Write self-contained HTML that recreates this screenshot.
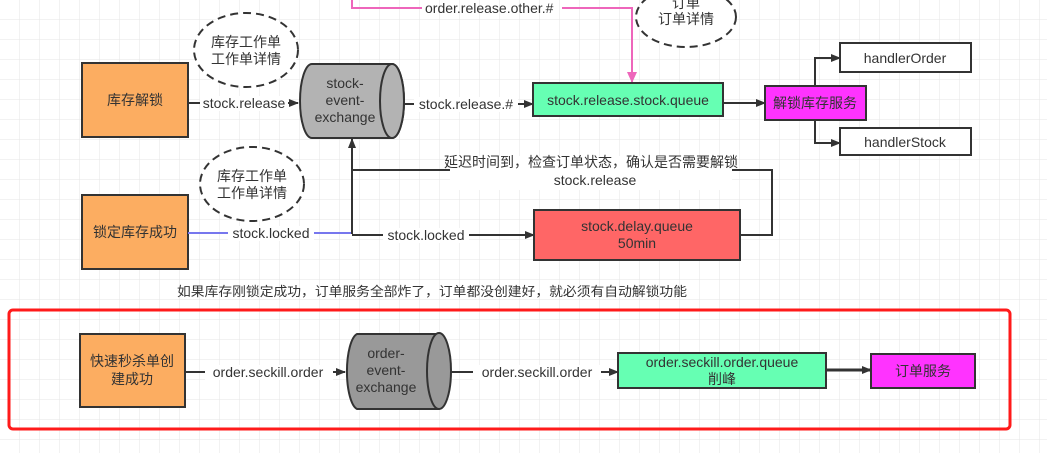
<!DOCTYPE html><html><head><meta charset="utf-8"><style>
body{margin:0;width:1047px;height:453px;overflow:hidden;background:#fff;}
svg{display:block}
text{font-family:"Liberation Sans","Noto Sans CJK SC",sans-serif;font-size:14px;fill:#333;}
</style></head><body>
<svg width="1047" height="453" viewBox="0 0 1047 453" xmlns="http://www.w3.org/2000/svg">
<defs>
<pattern id="g" width="20" height="20" patternUnits="userSpaceOnUse"><path d="M20 0V20H0" fill="none" stroke="#e6e6e6" stroke-width="1"/></pattern>
<marker id="a" markerWidth="10" markerHeight="10" refX="9" refY="5" orient="auto" markerUnits="userSpaceOnUse"><path d="M0,1 L10,5 L0,9 Z" fill="#333"/></marker>
<marker id="p" markerWidth="12" markerHeight="12" refX="10" refY="6" orient="auto" markerUnits="userSpaceOnUse"><path d="M0,1 L11,6 L0,11 Z" fill="#ee66bb"/></marker>
</defs>
<rect width="1047" height="453" fill="url(#g)"/>
<path d="M352 0V8H422M562 8H632V82" fill="none" stroke="#ee66bb" stroke-width="2" marker-end="url(#p)"/>
<text x="425" y="13">order.release.other.#</text>
<ellipse cx="686" cy="17" rx="50" ry="30" fill="#fff" stroke="#333" stroke-width="2" stroke-dasharray="8,5"/>
<text x="686" y="8" text-anchor="middle">订单</text>
<text x="686" y="24" text-anchor="middle">订单详情</text>
<ellipse cx="246" cy="50" rx="52" ry="37" fill="#fff" stroke="#333" stroke-width="2" stroke-dasharray="8,5"/>
<text x="246" y="47" text-anchor="middle">库存工作单</text>
<text x="246" y="64" text-anchor="middle">工作单详情</text>
<rect x="82" y="63" width="106" height="74" fill="#fcad61" stroke="#333" stroke-width="2"/>
<text x="135" y="105" text-anchor="middle">库存解锁</text>
<line x1="188" y1="103" x2="298" y2="103" stroke="#333" stroke-width="2" marker-end="url(#a)"/>
<rect x="200" y="96" width="88" height="15" fill="#fff"/>
<text x="244" y="108" text-anchor="middle">stock.release</text>
<path d="M312 64H392A12 37 0 0 1 392 138H312A12 37 0 0 1 312 64Z" fill="#b3b3b3" stroke="#333" stroke-width="2"/>
<ellipse cx="392" cy="101" rx="12" ry="37" fill="#b3b3b3" stroke="#333" stroke-width="2"/>
<text x="345" y="88" text-anchor="middle">stock-</text>
<text x="345" y="105" text-anchor="middle">event-</text>
<text x="345" y="122" text-anchor="middle">exchange</text>
<line x1="404" y1="104" x2="533" y2="104" stroke="#333" stroke-width="2" marker-end="url(#a)"/>
<rect x="414" y="97" width="104" height="15" fill="#fff"/>
<text x="466" y="109" text-anchor="middle">stock.release.#</text>
<rect x="533" y="83" width="190" height="33" fill="#66ffb3" stroke="#333" stroke-width="2"/>
<text x="628" y="105" text-anchor="middle">stock.release.stock.queue</text>
<line x1="723" y1="103" x2="765" y2="103" stroke="#333" stroke-width="2" marker-end="url(#a)"/>
<rect x="765" y="86" width="101" height="34" fill="#ff33ff" stroke="#333" stroke-width="2"/>
<text x="815" y="108" text-anchor="middle">解锁库存服务</text>
<path d="M815 86V58H840" fill="none" stroke="#333" stroke-width="2" marker-end="url(#a)"/>
<path d="M815 120V143H840" fill="none" stroke="#333" stroke-width="2" marker-end="url(#a)"/>
<rect x="840" y="43" width="131" height="29" fill="#fff" stroke="#333" stroke-width="2"/>
<text x="905" y="63" text-anchor="middle">handlerOrder</text>
<rect x="840" y="128" width="131" height="27" fill="#fff" stroke="#333" stroke-width="2"/>
<text x="905" y="147" text-anchor="middle">handlerStock</text>
<ellipse cx="252" cy="184" rx="52" ry="37" fill="#fff" stroke="#333" stroke-width="2" stroke-dasharray="8,5"/>
<text x="252" y="181" text-anchor="middle">库存工作单</text>
<text x="252" y="198" text-anchor="middle">工作单详情</text>
<rect x="82" y="195" width="106" height="74" fill="#fcad61" stroke="#333" stroke-width="2"/>
<text x="135" y="237" text-anchor="middle">锁定库存成功</text>
<line x1="188" y1="233" x2="352" y2="233" stroke="#7777ee" stroke-width="2"/>
<rect x="228" y="226" width="86" height="15" fill="#fff"/>
<text x="271" y="238" text-anchor="middle">stock.locked</text>
<line x1="352" y1="234" x2="352" y2="139" stroke="#333" stroke-width="2" marker-end="url(#a)"/>
<path d="M352 170H772V235H740" fill="none" stroke="#333" stroke-width="2"/>
<rect x="450" y="156" width="282" height="34" fill="#fff"/>
<text x="591" y="167" text-anchor="middle">延迟时间到，检查订单状态，确认是否需要解锁</text>
<text x="595" y="185" text-anchor="middle">stock.release</text>
<line x1="352" y1="235" x2="534" y2="235" stroke="#333" stroke-width="2" marker-end="url(#a)"/>
<rect x="383" y="228" width="86" height="15" fill="#fff"/>
<text x="426" y="240" text-anchor="middle">stock.locked</text>
<rect x="534" y="210" width="206" height="50" fill="#ff6666" stroke="#333" stroke-width="2"/>
<text x="637" y="231" text-anchor="middle">stock.delay.queue</text>
<text x="637" y="248" text-anchor="middle">50min</text>
<text x="177" y="296" style="font-size:13px" textLength="510" lengthAdjust="spacingAndGlyphs">如果库存刚锁定成功，订单服务全部炸了，订单都没创建好，就必须有自动解锁功能</text>
<rect x="9" y="310" width="1001" height="119" rx="4" fill="none" stroke="#ff1a1a" stroke-width="3"/>
<rect x="80" y="334" width="105" height="73" fill="#fcad61" stroke="#333" stroke-width="2"/>
<text x="132" y="366" text-anchor="middle">快速秒杀单创</text>
<text x="132" y="384" text-anchor="middle">建成功</text>
<line x1="185" y1="372" x2="345" y2="372" stroke="#333" stroke-width="2" marker-end="url(#a)"/>
<rect x="205" y="365" width="128" height="15" fill="#fff"/>
<text x="268" y="377" text-anchor="middle">order.seckill.order</text>
<path d="M357 334H439A12 38 0 0 1 439 409H357A12 38 0 0 1 357 334Z" fill="#999" stroke="#333" stroke-width="2"/>
<ellipse cx="439" cy="371" rx="12" ry="38" fill="#999" stroke="#333" stroke-width="2"/>
<text x="386" y="358" text-anchor="middle">order-</text>
<text x="386" y="375" text-anchor="middle">event-</text>
<text x="386" y="392" text-anchor="middle">exchange</text>
<line x1="451" y1="372" x2="618" y2="372" stroke="#333" stroke-width="2" marker-end="url(#a)"/>
<rect x="473" y="365" width="128" height="15" fill="#fff"/>
<text x="537" y="377" text-anchor="middle">order.seckill.order</text>
<rect x="618" y="353" width="208" height="35" fill="#66ffb3" stroke="#333" stroke-width="2"/>
<text x="722" y="367" text-anchor="middle">order.seckill.order.queue</text>
<text x="722" y="384" text-anchor="middle">削峰</text>
<line x1="826" y1="370" x2="871" y2="370" stroke="#333" stroke-width="3" marker-end="url(#a)"/>
<rect x="871" y="354" width="104" height="34" fill="#ff33ff" stroke="#333" stroke-width="2"/>
<text x="923" y="376" text-anchor="middle">订单服务</text>
</svg>
</body></html>
